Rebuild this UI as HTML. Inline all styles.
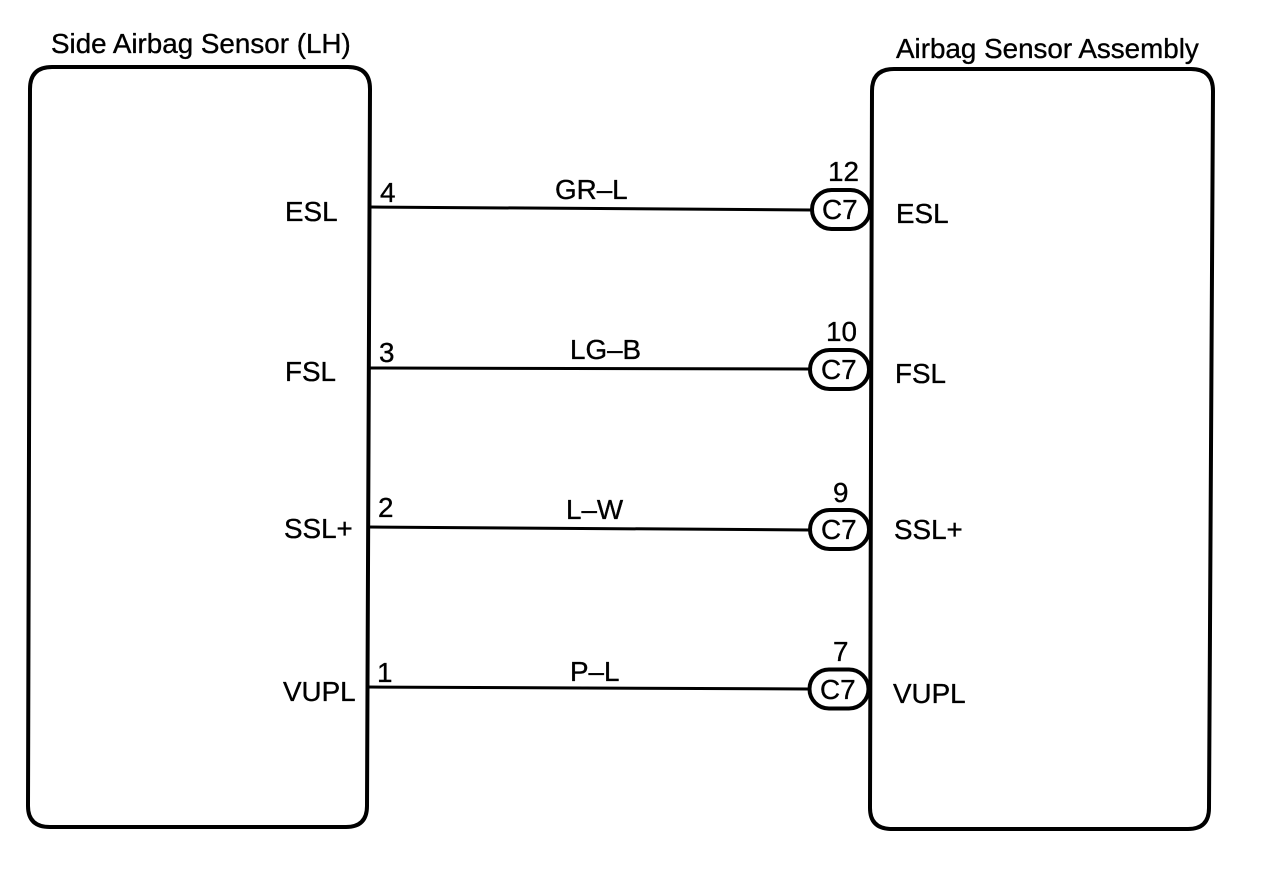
<!DOCTYPE html>
<html>
<head>
<meta charset="utf-8">
<style>
html,body{margin:0;padding:0;background:#fff;}
svg{display:block;}
text{font-family:"Liberation Sans",sans-serif;font-size:27.8px;fill:#000;stroke:#000;stroke-width:0.35px;}
</style>
</head>
<body>
<svg width="1264" height="872" viewBox="0 0 1264 872" xmlns="http://www.w3.org/2000/svg">
<g stroke="#000" stroke-width="3" fill="none">
<line x1="370" y1="207" x2="812" y2="210"/>
<line x1="370" y1="368" x2="810" y2="369"/>
<line x1="368" y1="527" x2="810" y2="530"/>
<line x1="367" y1="687" x2="809" y2="689"/>
</g>
<g stroke="#000" stroke-width="4" fill="#fff">
<rect x="812" y="190" width="58" height="39" rx="19.5" ry="19.5"/>
<rect x="810" y="350" width="59" height="39" rx="19.5" ry="19.5"/>
<rect x="810" y="510" width="59" height="39" rx="19.5" ry="19.5"/>
<rect x="809.5" y="669.5" width="59" height="39" rx="19.5" ry="19.5"/>
</g>
<path d="M52 67 L348 67 Q370 67 370 89 L367 806 Q367 827 346 827 L50 827 Q28 827 28 806 L30 89 Q30 67 52 67 Z" fill="none" stroke="#000" stroke-width="4"/>
<path d="M894 69 L1191 69 Q1213 69 1213 91 L1209 808 Q1209 829 1188 829 L892 829 Q870 829 870 808 L872 91 Q872 69 894 69 Z" fill="none" stroke="#000" stroke-width="4"/>
<text x="51" y="53">Side Airbag Sensor (LH)</text>
<text x="896" y="58">Airbag Sensor Assembly</text>
<text x="285" y="221">ESL</text>
<text x="285" y="381">FSL</text>
<text x="284" y="538">SSL+</text>
<text x="283" y="701">VUPL</text>
<text x="896" y="223">ESL</text>
<text x="895" y="383">FSL</text>
<text x="894" y="539">SSL+</text>
<text x="893" y="703">VUPL</text>
<text x="380" y="202">4</text>
<text x="379" y="362">3</text>
<text x="378" y="517">2</text>
<text x="377" y="682">1</text>
<text x="828" y="181">12</text>
<text x="826" y="341">10</text>
<text x="833" y="502">9</text>
<text x="833" y="661">7</text>
<text x="555" y="199">GR–L</text>
<text x="570" y="359">LG–B</text>
<text x="566" y="519">L–W</text>
<text x="570" y="681">P–L</text>
<text x="822" y="219">C7</text>
<text x="821" y="379">C7</text>
<text x="821" y="539">C7</text>
<text x="820" y="699">C7</text>
</svg>
</body>
</html>
